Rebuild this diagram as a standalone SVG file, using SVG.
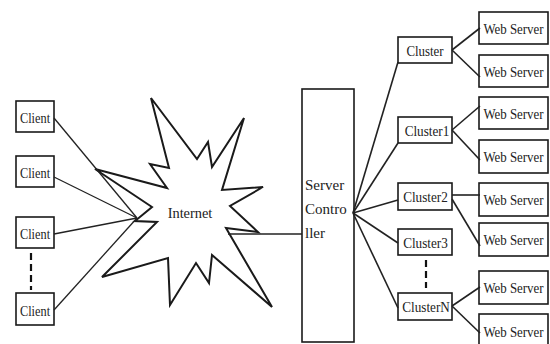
<svg xmlns="http://www.w3.org/2000/svg" width="550" height="344" viewBox="0 0 550 344">
  <style>
    .box { fill: #fff; stroke: #1a1a1a; stroke-width: 1.6; }
    .star { fill: #fff; stroke: #1a1a1a; stroke-width: 2; stroke-linejoin: miter; }
    text { font-family: 'Liberation Serif', 'DejaVu Serif', serif; fill: #222; text-anchor: middle; }
    .cl { font-size: 14px; }
    .cu { font-size: 15px; }
    .ws { font-size: 15px; }
    .net { font-size: 15px; }
    .ctl { font-size: 15px; text-anchor: start; }
    .thin { stroke: #222; stroke-width: 1.3; fill: none; }
    .wire { stroke: #222; stroke-width: 1.6; fill: none; }
    .dots { stroke: #111; stroke-width: 2.2; stroke-dasharray: 7 4; fill: none; }
  </style>

  <rect width="550" height="344" fill="#fff"/>

  <!-- clients: labels are set in a narrowed face -->
  <g id="client1"><rect class="box" x="16" y="101" width="38" height="31"/><text class="cl" transform="translate(35,123) scale(0.88,1)">Client</text></g>
  <g id="client2"><rect class="box" x="16" y="156" width="38" height="31"/><text class="cl" transform="translate(35,178) scale(0.88,1)">Client</text></g>
  <g id="client3"><rect class="box" x="16" y="217" width="38" height="31"/><text class="cl" transform="translate(35,239) scale(0.88,1)">Client</text></g>
  <g id="client4"><rect class="box" x="16" y="293" width="38" height="32"/><text class="cl" transform="translate(35,316) scale(0.88,1)">Client</text></g>

  <!-- internet cloud -->
  <g id="internet">
    <polygon class="star" points="95,169 167,188 150,164 169,168 151,98 197,159 208,142 212,167 244,118 222,190 263,187 230,206 258,232 226,228 272,307 212,255 209,283 196,263 170,305 168,258 102,277 157,222 135,221 152,207"/>
    <text class="net" transform="translate(190,218) scale(0.96,1)">Internet</text>
  </g>

  <!-- server controller -->
  <g id="controller">
    <rect class="box" x="302" y="89" width="52" height="253"/>
    <text class="ctl" x="305" y="190">Server</text>
    <text class="ctl" x="305" y="214">Contro</text>
    <text class="ctl" x="305" y="238">ller</text>
  </g>

  <!-- clusters -->
  <g id="cluster0"><rect class="box" x="398" y="37" width="54" height="26"/><text class="cu" transform="translate(425,56) scale(0.86,1)">Cluster</text></g>
  <g id="cluster1"><rect class="box" x="398" y="117" width="54" height="26"/><text class="cu" transform="translate(427,136) scale(0.88,1)">Cluster1</text></g>
  <g id="cluster2"><rect class="box" x="398" y="183" width="54" height="27"/><text class="cu" transform="translate(425.5,202) scale(0.88,1)">Cluster2</text></g>
  <g id="cluster3"><rect class="box" x="398" y="229" width="54" height="26"/><text class="cu" transform="translate(425.5,248) scale(0.88,1)">Cluster3</text></g>
  <g id="clusterN"><rect class="box" x="398" y="293" width="54" height="27"/><text class="cu" transform="translate(426,312) scale(0.88,1)">ClusterN</text></g>

  <!-- web servers -->
  <g id="web1"><rect class="box" x="479" y="12" width="69" height="32"/><text class="ws" transform="translate(513.5,33.5) scale(0.86,1)">Web Server</text></g>
  <g id="web2"><rect class="box" x="479" y="55" width="69" height="32"/><text class="ws" transform="translate(513.5,76.5) scale(0.86,1)">Web Server</text></g>
  <g id="web3"><rect class="box" x="479" y="97" width="69" height="32"/><text class="ws" transform="translate(513.5,118.5) scale(0.86,1)">Web Server</text></g>
  <g id="web4"><rect class="box" x="479" y="140" width="69" height="33"/><text class="ws" transform="translate(513.5,162) scale(0.86,1)">Web Server</text></g>
  <g id="web5"><rect class="box" x="479" y="183" width="69" height="33"/><text class="ws" transform="translate(513.5,205) scale(0.86,1)">Web Server</text></g>
  <g id="web6"><rect class="box" x="479" y="223" width="69" height="33"/><text class="ws" transform="translate(513.5,245) scale(0.86,1)">Web Server</text></g>
  <g id="web7"><rect class="box" x="479" y="271" width="69" height="33"/><text class="ws" transform="translate(513.5,293) scale(0.86,1)">Web Server</text></g>
  <g id="web8"><rect class="box" x="479" y="314" width="69" height="34"/><text class="ws" transform="translate(513.5,337) scale(0.86,1)">Web Server</text></g>

  <!-- connectors -->
  <g id="connectors">
    <line class="thin" x1="54" y1="118" x2="137" y2="218"/>
    <line class="thin" x1="54" y1="177" x2="137" y2="218"/>
    <line class="thin" x1="54" y1="234" x2="137" y2="218"/>
    <line class="thin" x1="54" y1="310" x2="137" y2="218"/>
    <line class="dots" x1="31" y1="253" x2="31" y2="290"/>

    <line class="wire" x1="228" y1="234" x2="302" y2="234"/>

    <line class="wire" x1="353" y1="213" x2="398" y2="62"/>
    <line class="wire" x1="353" y1="213" x2="398" y2="143"/>
    <line class="wire" x1="353" y1="213" x2="398" y2="200"/>
    <line class="wire" x1="353" y1="213" x2="398" y2="243"/>
    <line class="wire" x1="353" y1="213" x2="398" y2="308"/>
    <line class="dots" x1="426" y1="260" x2="426" y2="288"/>

    <line class="wire" x1="452" y1="50" x2="480" y2="28"/>
    <line class="wire" x1="452" y1="50" x2="480" y2="77"/>
    <line class="wire" x1="452" y1="130" x2="480" y2="106"/>
    <line class="wire" x1="452" y1="130" x2="480" y2="160"/>
    <line class="wire" x1="452" y1="195" x2="480" y2="195"/>
    <line class="wire" x1="452" y1="199" x2="480" y2="246"/>
    <line class="wire" x1="452" y1="306" x2="480" y2="287"/>
    <line class="wire" x1="452" y1="306" x2="480" y2="333"/>
  </g>
</svg>
